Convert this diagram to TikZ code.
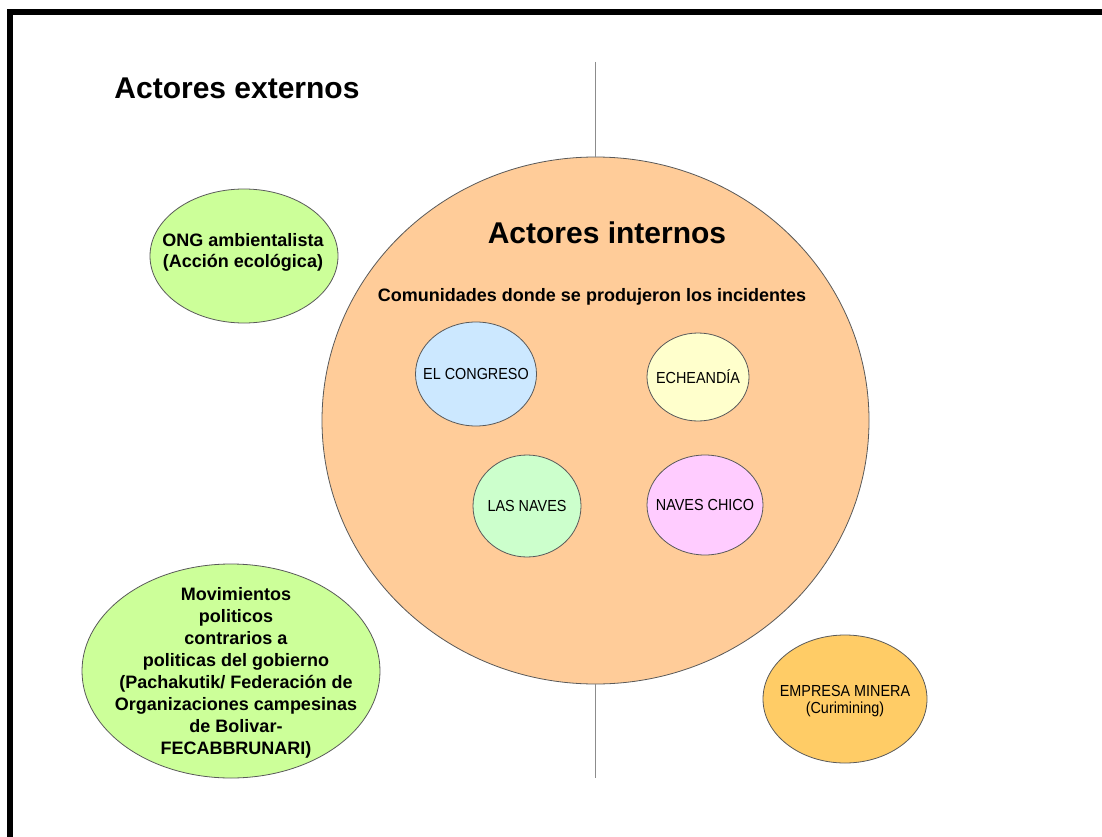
\documentclass[tikz,border=0pt]{standalone}
\usepackage{fontspec}
\setmainfont{Liberation Sans}
\newfontfamily\narrowsf[FakeStretch=0.9]{Liberation Sans}
\usetikzlibrary{shapes.geometric,positioning}

\definecolor{peach}{HTML}{FFCC99}
\definecolor{lime}{HTML}{CCFF99}
\definecolor{gold}{HTML}{FFCC66}
\definecolor{sky}{HTML}{CCE8FF}
\definecolor{cream}{HTML}{FFFFCC}
\definecolor{mint}{HTML}{CCFFCC}
\definecolor{pink}{HTML}{FFCCFF}

\begin{document}
\begin{tikzpicture}[x=1pt,y=-1pt,
		blob/.style={ellipse,draw=black!65,line width=0.8pt,inner sep=0pt},
		head/.style={font=\fontsize{30}{36}\selectfont\bfseries},
		bold/.style={font=\fontsize{18}{21}\selectfont\bfseries,align=center},
		caps/.style={font=\narrowsf\fontsize{16}{17}\selectfont,align=center}]
		\useasboundingbox (0,0) rectangle (1102,837);
		\fill[white] (0,0) rectangle (1102,837);
		\draw[line width=6pt] (10,837) -- (10,12) -- (1102,12);

		% internal actors
		\node[blob,fill=peach,minimum width=547pt,minimum height=527pt] (interno) at (595.5,420.5) {};
		\coordinate (axis_top) at (595.5,62);
		\coordinate (axis_bot) at (595.5,778);
		\draw[black!45,line width=1.6pt] (axis_top) -- (interno.north) (interno.south) -- (axis_bot);

		\node[head] (t_int) at (607,233) {Actores internos};
		\node[bold] (t_com) at (592,297) {Comunidades donde se produjeron los incidentes};

		\node[blob,fill=sky,minimum width=121pt,minimum height=104pt] (congreso) at (476,374) {};
		\node[blob,fill=cream,minimum width=102pt,minimum height=88pt] (echeandia) at (698,377) {};
		\node[blob,fill=mint,minimum width=108pt,minimum height=102pt] (naves) at (527,506) {};
		\node[blob,fill=pink,minimum width=116pt,minimum height=100pt] (chico) at (705,505) {};
		\node[caps] (t_congreso) at (congreso) {EL CONGRESO};
		\node[caps] (t_echeandia) at (echeandia) {ECHEANDÍA};
		\node[caps] (t_naves) at (naves) {LAS NAVES};
		\node[caps] (t_chico) at (chico) {NAVES CHICO};

		% external actors
		\node[head] (t_ext) at (237,88) {Actores externos};

		\node[blob,fill=lime,minimum width=188pt,minimum height=134pt] (ong) at (244,256) {};
		\node[bold] (t_ong) at (243,252) {ONG ambientalista\\(Acción ecológica)};

		\node[blob,fill=lime,minimum width=298pt,minimum height=214pt] (mov) at (231,671) {};
		\node[bold,font=\fontsize{18}{22}\selectfont\bfseries] (t_mov) at (236,673)
			{Movimientos\\politicos\\contrarios a\\politicas del gobierno\\(Pachakutik/ Federación de\\Organizaciones campesinas\\de Bolivar-\\FECABBRUNARI)};

		\node[blob,fill=gold,minimum width=164pt,minimum height=128pt] (minera) at (845,699) {};
		\node[caps] (t_minera) at (845,701) {EMPRESA MINERA\\(Curimining)};
	\end{tikzpicture}
\end{document}
